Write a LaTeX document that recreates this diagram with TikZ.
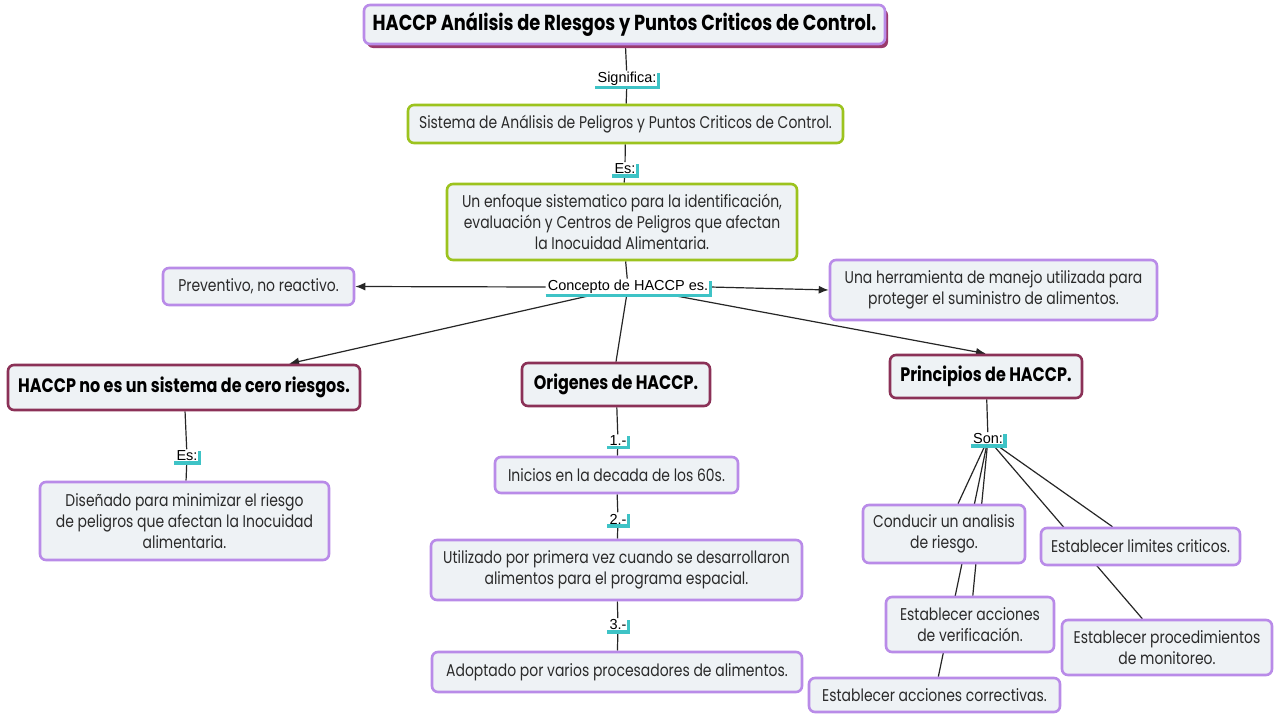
\documentclass[tikz,border=0pt]{standalone}
\usepackage{fontspec}
\setmainfont{Poppins}[FakeStretch=0.82]
\newfontfamily\labfont{Liberation Sans}
\usetikzlibrary{arrows.meta,backgrounds,shadows}
\definecolor{boxfill}{HTML}{EEF2F5}
\definecolor{lav}{HTML}{B98BE8}
\definecolor{grn}{HTML}{9CC31E}
\definecolor{mar}{HTML}{8B3157}
\definecolor{tealc}{HTML}{3EC3C6}
\definecolor{shad}{HTML}{9A3A6C}
\definecolor{txt}{HTML}{2A2A2A}
\tikzset{
  box/.style={draw=lav, line width=2.6pt, fill=boxfill, rounded corners=6pt,
    align=center, inner sep=2pt, text=txt, font=\fontsize{17}{21}\selectfont},
  gbox/.style={box, draw=grn},
  mbox/.style={box, draw=mar, text=black, font=\bfseries\fontsize{19.5}{22}\selectfont},
  tbox/.style={box, text=black, font=\bfseries\fontsize{21.7}{25}\selectfont,
    drop shadow={shadow xshift=3pt, shadow yshift=-4pt, fill=shad, opacity=1}},
  lbl/.style={font=\labfont\fontsize{14.5}{16}\selectfont, inner xsep=2pt, inner ysep=1.5pt,
    append after command={\pgfextra{\draw[tealc,line width=3.5pt]
      (\tikzlastnode.south west) -- (\tikzlastnode.south east) -- ([yshift=-2pt]\tikzlastnode.north east);}}},
  conn/.style={line width=1.2pt, draw=black!85},
  arr/.style={conn, -{Latex[length=10pt,width=8pt]}}
}
\begin{document}
\begin{tikzpicture}[x=1pt,y=-1pt]
\useasboundingbox (0,0) rectangle (1280,720);
\begin{scope}[on background layer]
\fill[white] (0,0) rectangle (1280,720);
\end{scope}
% boxes
\node[tbox, minimum width=521, minimum height=39] (title) at (624.5,24.5) {HACCP Análisis de RIesgos y Puntos Criticos de Control.};
\node[gbox, minimum width=435, minimum height=38] (sis) at (625.5,124) {Sistema de Análisis de Peligros y Puntos Criticos de Control.};
\node[gbox, minimum width=350, minimum height=76] (enf) at (622,222) {Un enfoque sistematico para la identificación,\\evaluación y Centros de Peligros que afectan\\la Inocuidad Alimentaria.};
\node[box, minimum width=191, minimum height=37] (prev) at (258.5,286.5) {Preventivo, no reactivo.};
\node[box, minimum width=327, minimum height=60] (herr) at (993.5,290) {Una herramienta de manejo utilizada para\\proteger el suministro de alimentos.};
\node[mbox, minimum width=352, minimum height=45] (noes) at (184,387.5) {HACCP no es un sistema de cero riesgos.};
\node[mbox, minimum width=188, minimum height=43] (orig) at (616,384.5) {Origenes de HACCP.};
\node[mbox, minimum width=192, minimum height=43] (prin) at (986,376.5) {Principios de HACCP.};
\node[box, minimum width=289, minimum height=78] (dis) at (184.5,521) {Diseñado para minimizar el riesgo\\de peligros que afectan la Inocuidad\\alimentaria.};
\node[box, minimum width=243, minimum height=36] (ini) at (616.5,475) {Inicios en la decada de los 60s.};
\node[box, minimum width=371, minimum height=60] (uti) at (616.5,570) {Utilizado por primera vez cuando se desarrollaron\\alimentos para el programa espacial.};
\node[box, minimum width=370, minimum height=40] (ado) at (617,672) {Adoptado por varios procesadores de alimentos.};
\node[box, minimum width=162, minimum height=58] (con) at (944,534) {Conducir un analisis\\de riesgo.};
\node[box, minimum width=199, minimum height=37] (lim) at (1140.5,546.5) {Establecer limites criticos.};
\node[box, minimum width=168, minimum height=55] (ver) at (970,624.5) {Establecer acciones\\de verificación.};
\node[box, minimum width=210, minimum height=55] (proc) at (1167,647.5) {Establecer procedimientos\\de monitoreo.};
\node[box, minimum width=251, minimum height=34] (corr) at (934.5,695) {Establecer acciones correctivas.};
% labels
\node[lbl] (sig) at (627,79) {Significa:};
\node[lbl] (es1) at (625,169) {Es:};
\node[lbl] (conc) at (628,287) {Concepto de HACCP es.};
\node[lbl] (es2) at (187,456) {Es:};
\node[lbl] (n1) at (618,441) {1.-};
\node[lbl] (n2) at (618,519) {2.-};
\node[lbl] (n3) at (618,625) {3.-};
\node[lbl] (son) at (988,439) {Son:};
% connectors
\begin{scope}[on background layer]
\draw[conn] (title) -- (sig);
\draw[conn] (sig) -- (sis);
\draw[conn] (sis) -- (es1);
\draw[conn] (es1) -- (enf);
\draw[conn] (enf) -- (conc);
\draw[arr] (conc.west) -- (prev.east);
\draw[arr] (conc.east) -- (herr.west);
\draw[arr] (conc) -- (noes);
\draw[conn] (conc) -- (orig.north);
\draw[arr] (conc) -- (prin.north);
\draw[conn] (noes) -- (es2);
\draw[conn] (es2) -- (dis);
\draw[conn] (orig) -- (n1);
\draw[conn] (n1) -- (ini);
\draw[conn] (ini) -- (n2);
\draw[conn] (n2) -- (uti);
\draw[conn] (uti) -- (n3);
\draw[conn] (n3) -- (ado);
\draw[conn] (prin) -- (son);
\draw[conn] (son) -- (con);
\draw[conn] (son) -- (ver);
\draw[conn] (son) -- (corr);
\draw[conn] (son) -- (lim);
\draw[conn] (son) -- (proc);
\end{scope}
\end{tikzpicture}
\end{document}
